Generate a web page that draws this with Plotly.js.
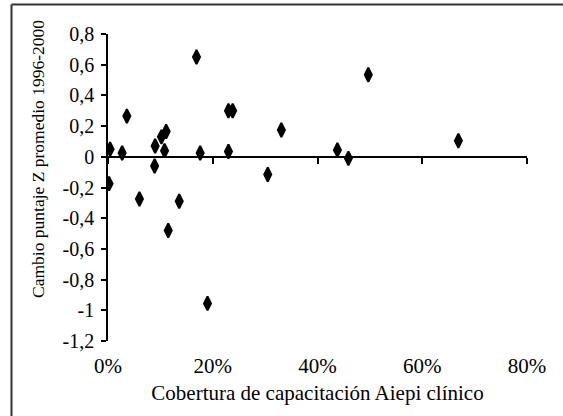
<!DOCTYPE html>
<html>
<head>
<meta charset="utf-8">
<script src="https://cdn.plot.ly/plotly-3.0.1.min.js"></script>
<style>
  html, body { margin: 0; padding: 0; background: #fff; }
  #chart { width: 563px; height: 416px; }
</style>
</head>
<body>
<div id="chart"></div>
<script>
// Coverage of clinical AIEPI training (%)
const cobertura = [0.4, 0.2, 2.7, 3.6, 6.0, 9.0, 8.9, 10.2, 11.1, 10.8, 11.5, 13.6,
                   16.9, 17.6, 19.0, 23.0, 23.8, 23.0, 30.5, 33.1, 43.8, 45.9, 49.7, 66.9];
// Change in mean Z score 1996-2000
const cambioZ = [0.05, -0.175, 0.025, 0.265, -0.275, 0.07, -0.06, 0.13, 0.165, 0.04, -0.48, -0.29,
                 0.65, 0.025, -0.955, 0.30, 0.30, 0.035, -0.115, 0.175, 0.045, -0.01, 0.535, 0.105];

const yTickVals = [0.8, 0.6, 0.4, 0.2, 0, -0.2, -0.4, -0.6, -0.8, -1, -1.2];
const yTickText = ["0,8", "0,6", "0,4", "0,2", "0", "-0,2", "-0,4", "-0,6", "-0,8", "-1", "-1,2"];
const xTickVals = [0, 20, 40, 60, 80];
const xTickText = ["0%", "20%", "40%", "60%", "80%"];

const serifFamily = "Liberation Serif";

const trace = {
  x: cobertura,
  y: cambioZ,
  type: "scatter",
  mode: "markers",
  marker: { symbol: "diamond-tall", size: 10, color: "#000", line: { color: "#000", width: 2 } },
  hoverinfo: "x+y",
  showlegend: false
};

const layout = {
  width: 563,
  height: 416,
  margin: { l: 108, r: 36, t: 34, b: 75, pad: 0 },
  paper_bgcolor: "#fff",
  plot_bgcolor: "#fff",
  font: { family: serifFamily, size: 20, color: "#000" },
  xaxis: {
    range: [0, 80],
    tickvals: xTickVals,
    ticktext: xTickText,
    showline: false,
    zeroline: false,
    showgrid: false,
    ticks: "",
    ticklabelstandoff: 10,
    tickfont: { size: 21 },
    title: { text: "Cobertura de capacitación Aiepi clínico", font: { size: 21 }, standoff: 8 }
  },
  xaxis2: {
    range: [0, 80],
    overlaying: "x",
    anchor: "free",
    position: 0.6,
    tickvals: xTickVals,
    showticklabels: false,
    showline: true,
    linecolor: "#000",
    linewidth: 1.5,
    ticks: "outside",
    ticklen: 6,
    tickwidth: 1.5,
    tickcolor: "#000",
    showgrid: false,
    zeroline: false
  },
  yaxis: {
    range: [-1.2, 0.8],
    tickvals: yTickVals,
    ticktext: yTickText,
    showline: true,
    linecolor: "#000",
    linewidth: 1.5,
    ticks: "outside",
    ticklen: 5,
    tickwidth: 1.5,
    tickcolor: "#000",
    showgrid: false,
    zeroline: false,
    ticklabelstandoff: 3,
    tickfont: { size: 20 }
  },
  annotations: [{
    text: "Cambio puntaje Z promedio 1996-2000",
    xref: "paper", yref: "paper",
    x: (38 - 108) / 419, y: (341 - 159) / 307,
    xanchor: "center", yanchor: "middle",
    textangle: -90,
    showarrow: false,
    font: { size: 17.5 }
  }],
  shapes: [
    { type: "line", xref: "paper", yref: "paper",
      x0: (11.5 - 108) / 419, x1: (570 - 108) / 419, y0: (341 - 4.5) / 307, y1: (341 - 4.5) / 307,
      line: { color: "#333", width: 2 } },
    { type: "line", xref: "paper", yref: "paper",
      x0: (11.5 - 108) / 419, x1: (11.5 - 108) / 419, y0: (341 - 4.5) / 307, y1: (341 - 425) / 307,
      line: { color: "#333", width: 2 } }
  ]
};

// invisible trace that carries the zero-line axis (xaxis2)
const zeroAxisTrace = {
  x: [0, 80], y: [0, 0], xaxis: "x2", yaxis: "y",
  type: "scatter", mode: "markers", marker: { opacity: 0 }, hoverinfo: "skip", showlegend: false
};

Plotly.newPlot("chart", [trace, zeroAxisTrace], layout, { displayModeBar: false });
</script>
</body>
</html>
